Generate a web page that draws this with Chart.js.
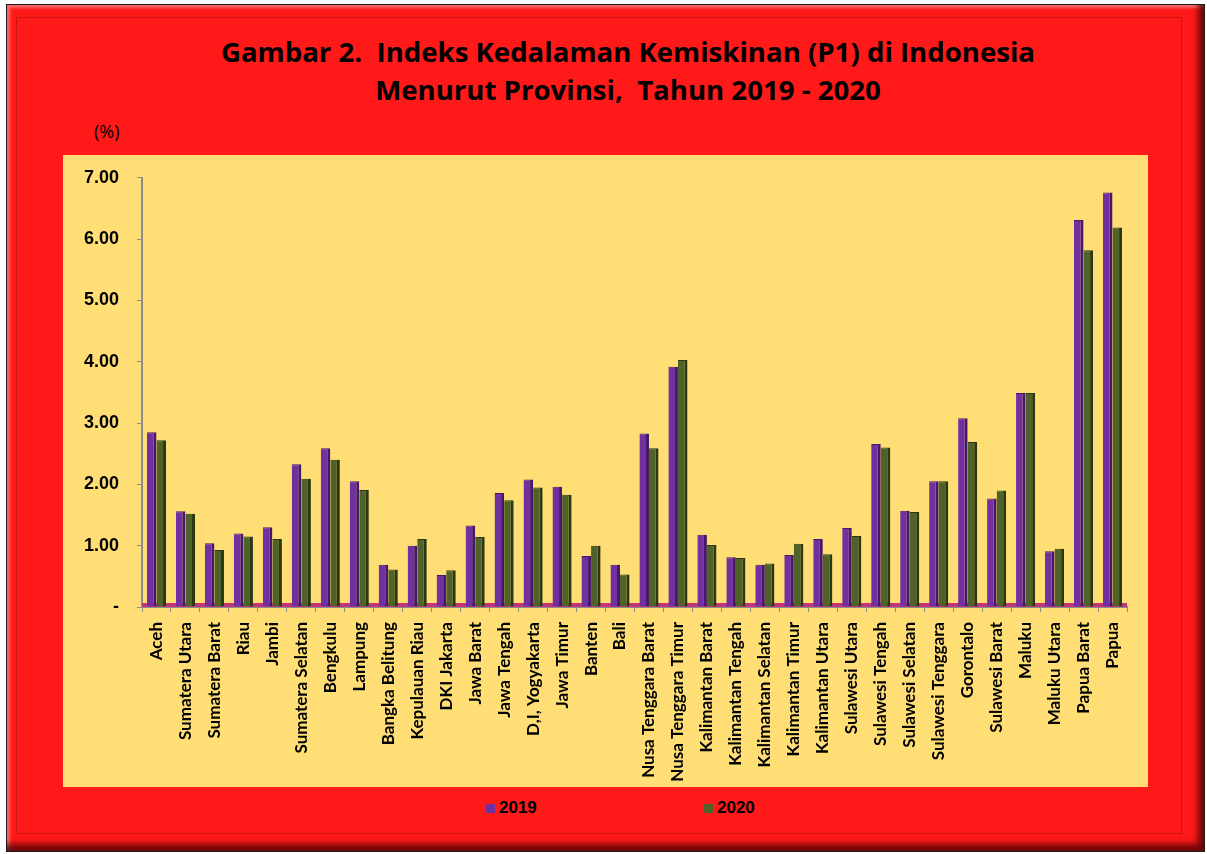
<!DOCTYPE html>
<html>
<head>
<meta charset="utf-8">
<script src="https://cdn.jsdelivr.net/npm/chart.js@4.4.1/dist/chart.umd.min.js"></script>
<style>
  body { margin: 0; width: 1207px; height: 854px; background: #fff; position: relative; overflow: hidden; }
  .frame {
    position: absolute; left: 6px; top: 4px; width: 1197px; height: 846px;
    background: #ff1919; border: 1px solid #1a1a1a;
    box-shadow: inset -6px -7px 6px rgba(60,0,0,0.75), inset 3px 3px 3px rgba(255,140,140,0.7);
  }
  .inner {
    position: absolute; left: 16px; top: 17px; width: 1164px; height: 815px;
    border: 1px solid #c81414;
  }
  .judul {
    position: absolute; left: 0; top: 32px; width: 1256px; text-align: center;
    font: bold 27.6px "Open Sans", sans-serif; line-height: 38px; color: #000;
  }
  .satuan { position: absolute; left: 94px; top: 119px; font: 18px "Open Sans", sans-serif; color: #000; }
  .panel { position: absolute; left: 63px; top: 155px; width: 1085px; height: 632px; background: #ffdf75; }
  .panel canvas { position: absolute; left: 0; top: -6px; display: block; }
  .legenda { position: absolute; top: 798px; left: 0; width: 1207px; font: bold 17px "Liberation Sans", Arial, sans-serif; }
  .legenda span { position: absolute; display: flex; align-items: center; }
  .legenda i { display: inline-block; width: 9px; height: 9px; margin-right: 4px; }
</style>
</head>
<body>
<div class="frame"></div>
<div class="inner"></div>
<div class="judul">Gambar 2.&nbsp; Indeks Kedalaman Kemiskinan (P1) di Indonesia<br>Menurut Provinsi,&nbsp; Tahun 2019 - 2020</div>
<div class="satuan">(%)</div>
<div class="panel"><canvas id="grafik" width="1085" height="638"></canvas></div>
<div class="legenda" id="legenda"></div>

<script>
// ===== DATA =====
const provinsi = [
  'Aceh', 'Sumatera Utara', 'Sumatera Barat', 'Riau', 'Jambi', 'Sumatera Selatan',
  'Bengkulu', 'Lampung', 'Bangka Belitung', 'Kepulauan Riau', 'DKI Jakarta',
  'Jawa Barat', 'Jawa Tengah', 'D,I, Yogyakarta', 'Jawa Timur', 'Banten', 'Bali',
  'Nusa Tenggara Barat', 'Nusa Tenggara Timur', 'Kalimantan Barat', 'Kalimantan Tengah',
  'Kalimantan Selatan', 'Kalimantan Timur', 'Kalimantan Utara', 'Sulawesi Utara',
  'Sulawesi Tengah', 'Sulawesi Selatan', 'Sulawesi Tenggara', 'Gorontalo',
  'Sulawesi Barat', 'Maluku', 'Maluku Utara', 'Papua Barat', 'Papua'
];

const tahun = ['2019', '2020'];

const p1_2019 = [
  2.85, 1.56, 1.04, 1.20, 1.30, 2.33, 2.59, 2.05, 0.69, 1.00, 0.52,
  1.33, 1.86, 2.08, 1.96, 0.83, 0.69, 2.83, 3.92, 1.18, 0.81,
  0.69, 0.85, 1.11, 1.29, 2.66, 1.57, 2.05, 3.08, 1.77, 3.49, 0.91, 6.31, 6.76
];

const p1_2020 = [
  2.72, 1.52, 0.93, 1.15, 1.11, 2.09, 2.40, 1.91, 0.61, 1.11, 0.60,
  1.14, 1.74, 1.95, 1.83, 1.00, 0.53, 2.59, 4.03, 1.01, 0.80,
  0.71, 1.03, 0.86, 1.16, 2.60, 1.55, 2.05, 2.69, 1.90, 3.49, 0.95, 5.82, 6.19
];

const warna = ['#7030a0', '#4f6228'];
const warnaSisi = ['#45186a', '#2c3813'];

// ===== LANTAI (strip merah muda di dasar) =====
const lantai = {
  id: 'lantai',
  beforeDatasetsDraw(chart) {
    const { ctx, chartArea } = chart;
    ctx.save();
    ctx.fillStyle = '#c2357a';
    ctx.fillRect(chartArea.left, chartArea.bottom - 4, chartArea.right - chartArea.left, 4);
    ctx.restore();
  }
};

// ===== GRAFIK =====
new Chart(document.getElementById('grafik'), {
  type: 'bar',
  data: {
    labels: provinsi,
    datasets: [
      {
        label: tahun[0],
        data: p1_2019,
        backgroundColor: warna[0],
        borderColor: warnaSisi[0],
        borderWidth: { top: 1, right: 3, left: 0, bottom: 0 },
        borderSkipped: false
      },
      {
        label: tahun[1],
        data: p1_2020,
        backgroundColor: warna[1],
        borderColor: warnaSisi[1],
        borderWidth: { top: 1, right: 3, left: 0, bottom: 0 },
        borderSkipped: false
      }
    ]
  },
  plugins: [lantai],
  options: {
    responsive: false,
    animation: false,
    layout: { padding: { top: 0, right: 21, bottom: 5, left: 0 } },
    categoryPercentage: 0.66,
    barPercentage: 1.0,
    plugins: {
      legend: { display: false },
      tooltip: { enabled: false }
    },
    scales: {
      x: {
        offset: true,
        afterFit(scale) { scale.height = 175; },
        grid: { offset: true, drawOnChartArea: false, tickLength: 5, color: '#8c8c8c' },
        border: { color: '#8c8c8c', width: 2 },
        ticks: {
          autoSkip: false,
          minRotation: 90,
          maxRotation: 90,
          padding: 10,
          color: '#000',
          font: { family: 'Lato', weight: 'bold', size: 17 }
        }
      },
      y: {
        min: 0,
        max: 7,
        afterFit(scale) { scale.width = 79; },
        grid: { drawOnChartArea: false, tickLength: 5, color: '#8c8c8c' },
        border: { color: '#8c8c8c', width: 2 },
        ticks: {
          stepSize: 1,
          padding: 18,
          color: '#000',
          font: { family: 'Liberation Sans', weight: 'bold', size: 18 },
          callback: v => v === 0 ? '-' : v.toFixed(2)
        }
      }
    }
  }
});

// ===== LEGENDA =====
const posLegenda = [486, 704];
const legenda = document.getElementById('legenda');
tahun.forEach((t, i) => {
  const item = document.createElement('span');
  item.style.left = posLegenda[i] + 'px';
  item.innerHTML = '<i style="background:' + warna[i] + '"></i>' + t;
  legenda.appendChild(item);
});
</script>
</body>
</html>
